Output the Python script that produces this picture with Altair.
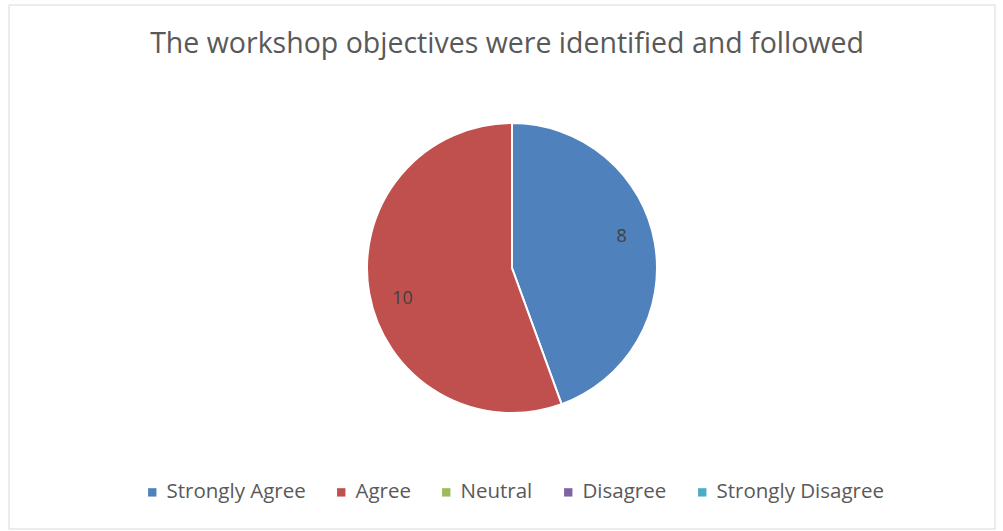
import altair as alt
import pandas as pd

categories = ["Strongly Agree", "Agree", "Neutral", "Disagree", "Strongly Disagree"]
counts = [8, 10, 0, 0, 0]
colors = ["#4F81BD", "#C0504D", "#9BBB59", "#8064A2", "#4BACC6"]
title_text = "The workshop objectives were identified and followed"

df = pd.DataFrame({"category": categories, "count": counts, "order": list(range(len(categories)))})

FONT = "Open Sans"

base = alt.Chart(df).transform_calculate(
    label="datum.count > 0 ? datum.count : ''"
).encode(
    theta=alt.Theta("count:Q", stack=True),
    order=alt.Order("order:Q"),
)

pie = base.mark_arc(outerRadius=145, stroke="white", strokeWidth=2).encode(
    x=alt.value(512), y=alt.value(268),
    color=alt.Color(
        "category:N",
        scale=alt.Scale(domain=categories, range=colors),
        sort=categories,
        legend=alt.Legend(
            orient="none", legendX=142, legendY=482, direction="horizontal",
            title=None, symbolType="square", symbolSize=70, symbolStrokeWidth=0,
            labelFontSize=20.5, labelColor="#595959", labelFont=FONT, labelLimit=400,
            columnPadding=25, labelOffset=4,
        ),
    ),
)

labels = base.mark_text(radius=114, thetaOffset=-0.105, fontSize=18, font=FONT, color="#404040").encode(
    x=alt.value(512), y=alt.value(268), text="label:N"
)

frame_df = pd.DataFrame({"t": [title_text]})
border = alt.Chart(frame_df).mark_rect(filled=False, stroke="#d9d9d9", strokeWidth=1).encode(
    x=alt.value(9), x2=alt.value(995), y=alt.value(5), y2=alt.value(529)
)
title = alt.Chart(frame_df).mark_text(
    fontSize=28.5, font=FONT, color="#595959", baseline="alphabetic"
).encode(
    x=alt.value(507), y=alt.value(53), text="t:N"
)

chart = alt.layer(border, pie, labels, title).properties(
    width=1003, height=531, padding=0,
    autosize=alt.AutoSizeParams(type="none"),
    background="white",
).configure_view(stroke=None)

chart.save("out.html", embed_options={"renderer": "svg", "actions": False})
